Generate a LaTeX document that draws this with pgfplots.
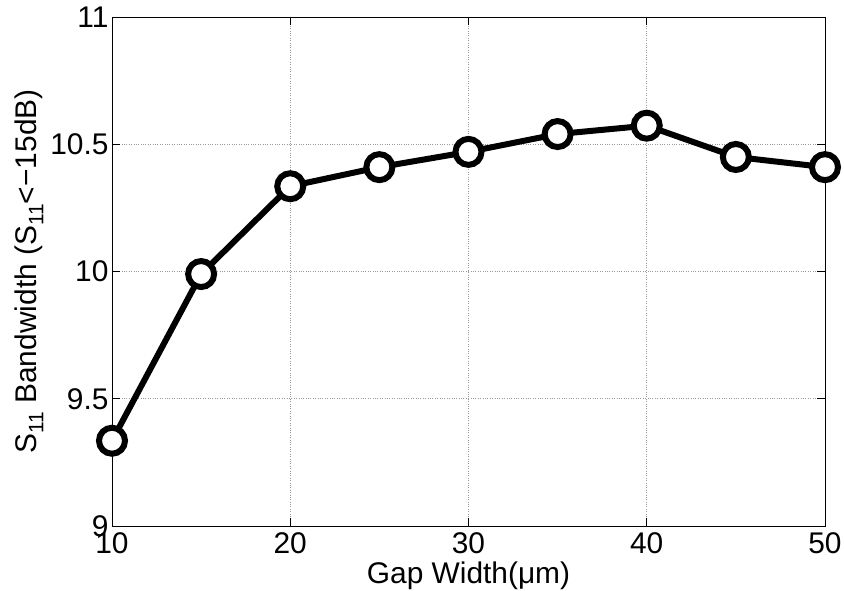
\documentclass[border=0pt]{standalone}
\usepackage{pgfplots}
\pgfplotsset{compat=1.18}
\usepackage{fontspec}
\setmainfont{Liberation Sans}
\newcommand{\sub}[1]{\raisebox{-0.45ex}{\fontsize{21}{21}\selectfont #1}}
\begin{document}
\begin{tikzpicture}
\path[use as bounding box] (-112bp,-65bp) rectangle (732bp,526bp);
\begin{axis}[
  at={(0,0)}, anchor=south west,
  scale only axis, width=713bp, height=509bp,
  xmin=10, xmax=50, ymin=9, ymax=11,
  xtick={10,20,30,40,50}, ytick={9,9.5,10,10.5,11},
  tick align=inside, major tick length=8bp,
  grid=major,
  major grid style={dotted, gray!80, line width=0.6pt},
  axis line style={line width=0.9pt},
  tick style={line width=0.9pt, black},
  /pgf/number format/assume math mode=true,
  tick label style={font=\fontsize{30}{32}\selectfont},
  xticklabel style={yshift=-3bp},
  yticklabel style={xshift=0bp},
  label style={font=\fontsize{30}{32}\selectfont},
  xlabel={Gap Width(μm)},
  ylabel={S\sub{11} Bandwidth (S\sub{11}<−15dB)},
  xlabel style={yshift=-1bp},
  ylabel style={yshift=0bp},
]
\addplot[black, line width=6bp, mark=*, mark size=13bp,
  mark options={fill=white, draw=black, line width=6bp}]
  coordinates {(10,9.335) (15,9.99) (20,10.335) (25,10.41) (30,10.47) (35,10.54) (40,10.573) (45,10.45) (50,10.41)};
\end{axis}
\end{tikzpicture}
\end{document}
